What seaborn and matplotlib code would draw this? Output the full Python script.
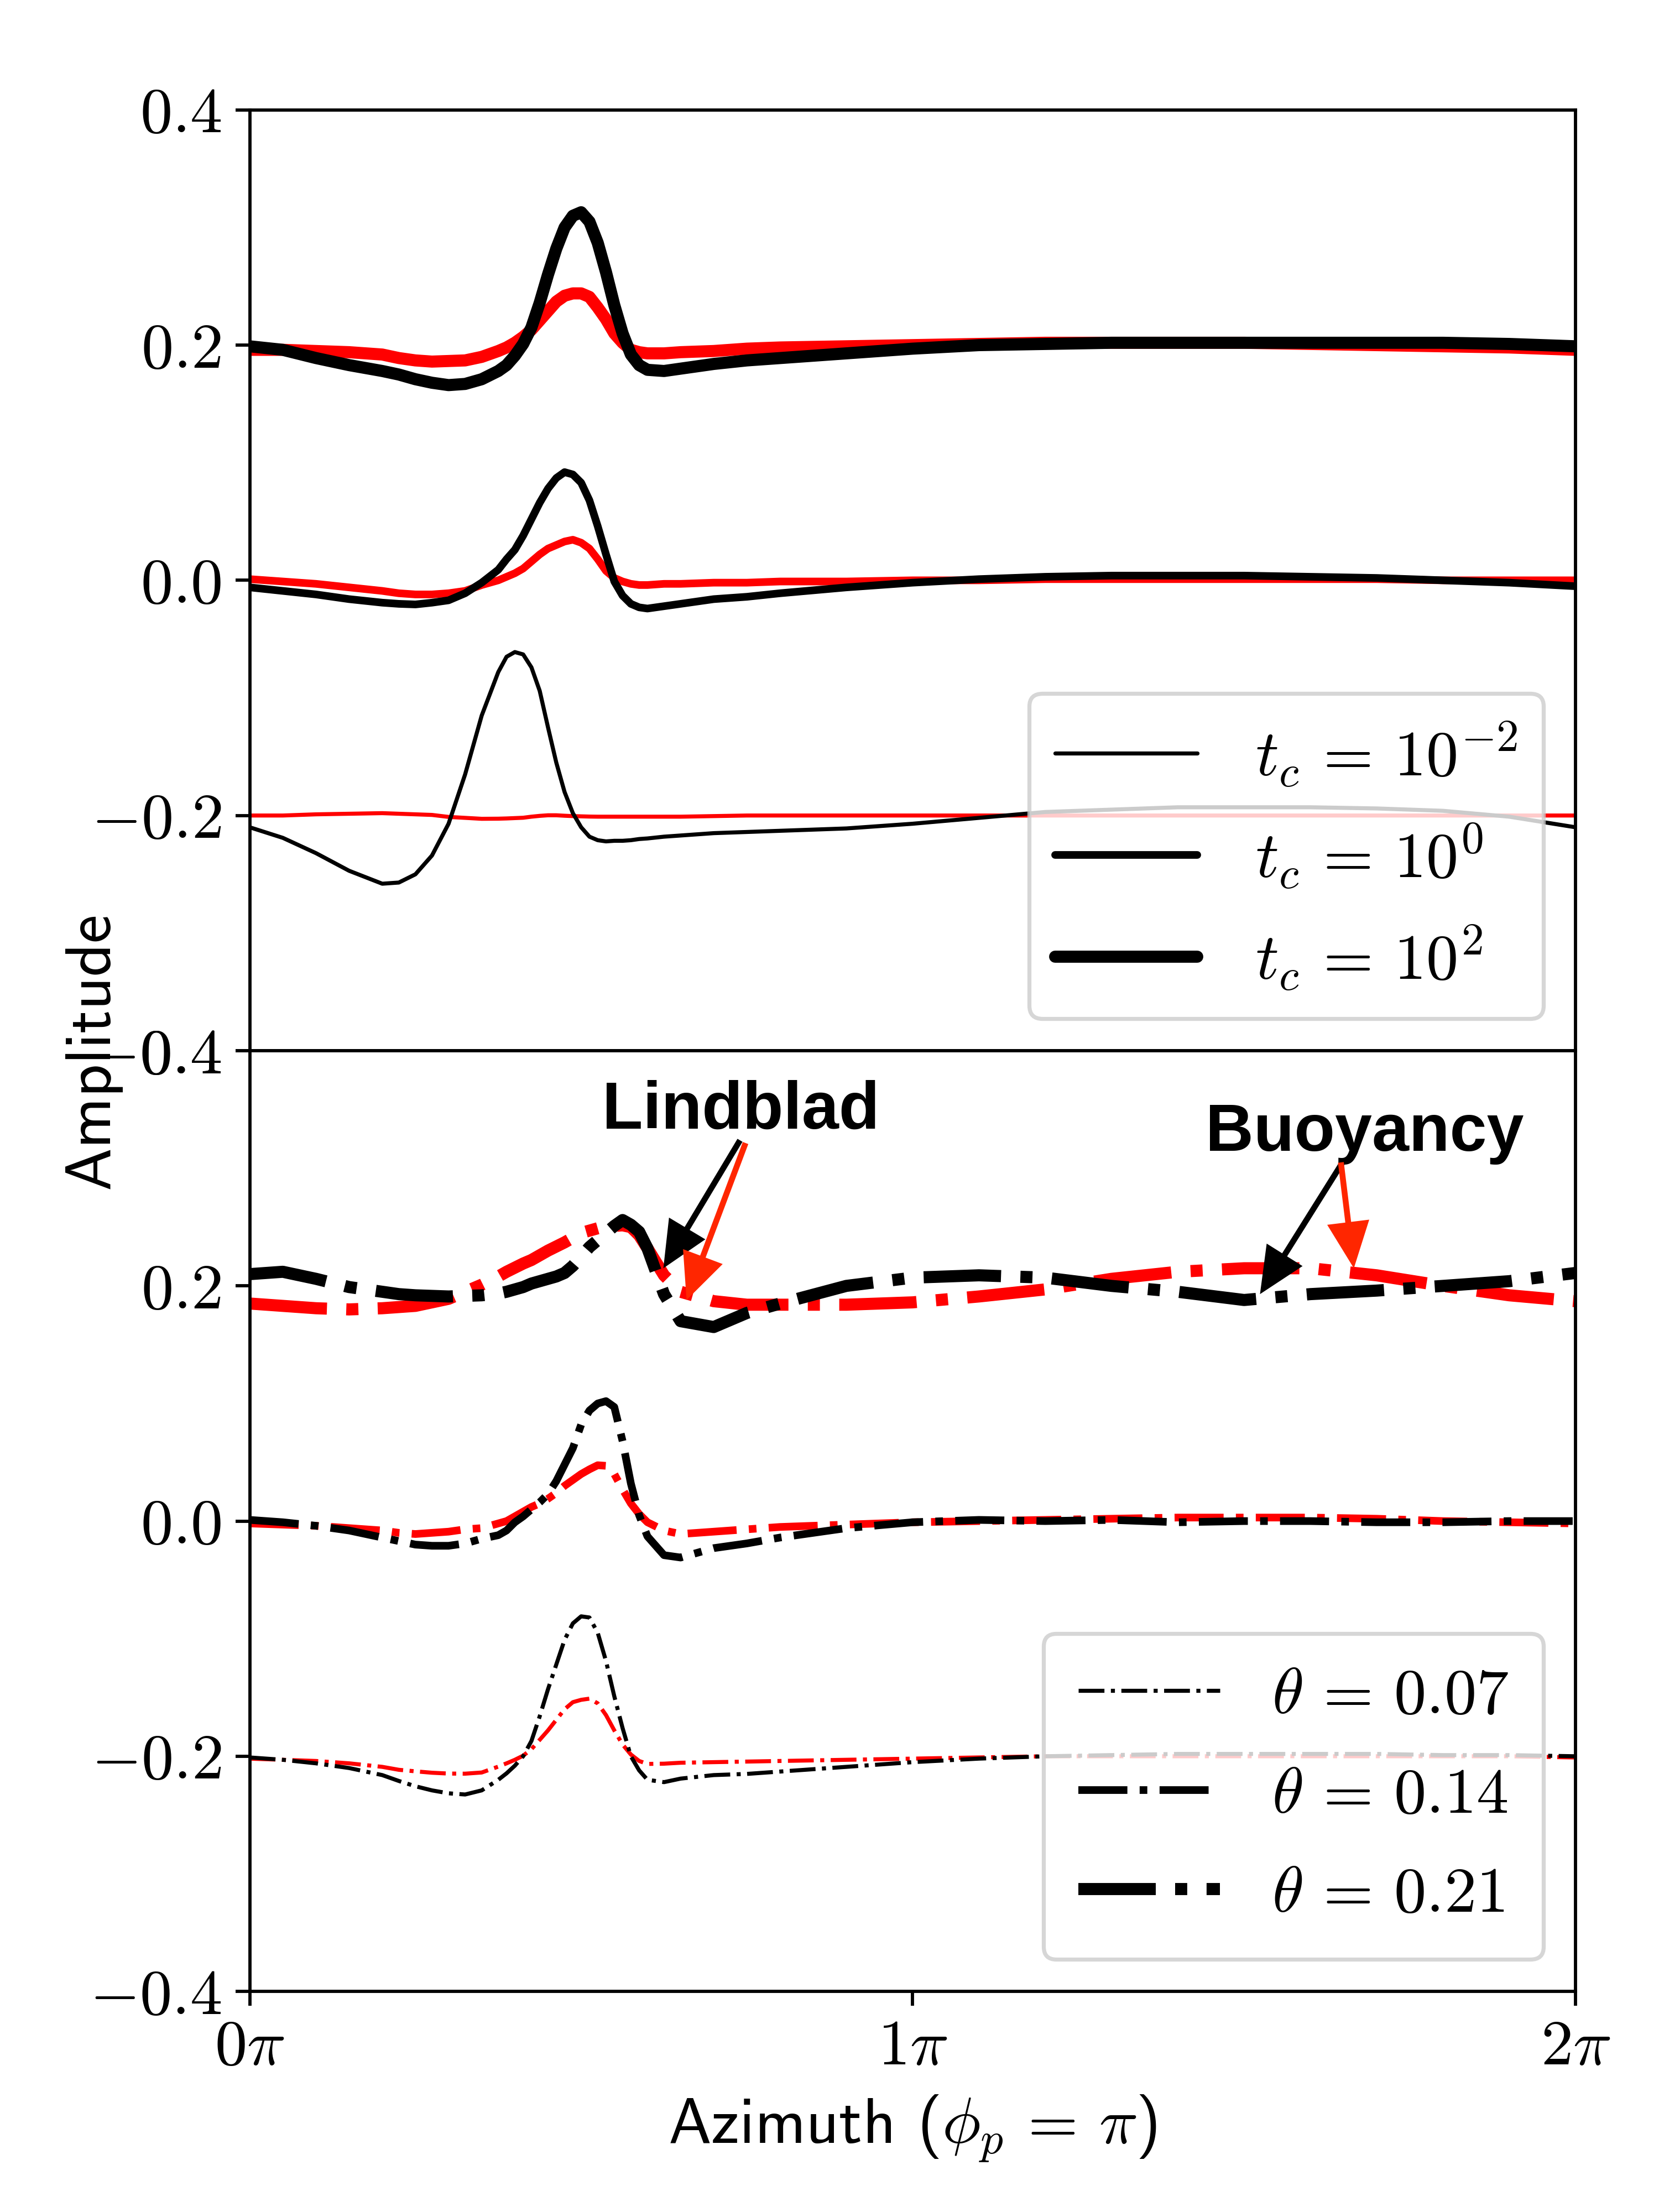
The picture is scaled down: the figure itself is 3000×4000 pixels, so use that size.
import numpy as np
import matplotlib
matplotlib.use("Agg")
import matplotlib.pyplot as plt
from matplotlib.lines import Line2D
import seaborn as sns

# ---------------- data (azimuth in units of pi) ----------------
phi = [0, 0.05, 0.1, 0.15, 0.2, 0.225, 0.25, 0.275, 0.3, 0.325, 0.35,
       0.375, 0.3875, 0.4, 0.4125, 0.425, 0.4375, 0.45, 0.4625, 0.475, 0.4875,
       0.5, 0.5125, 0.525, 0.5375, 0.55, 0.5625, 0.575, 0.5875, 0.6,
       0.625, 0.65, 0.7, 0.75, 0.8, 0.9,
       1.0, 1.1, 1.2, 1.3, 1.4, 1.5, 1.6, 1.7, 1.8, 1.9, 2.0]

# top panel: cooling time t_c (vertical offsets already included)
tc1e2_black = [0.199, 0.196, 0.189, 0.183, 0.178, 0.175, 0.171, 0.168, 0.166, 0.167, 0.171,
               0.178, 0.183, 0.191, 0.201, 0.215, 0.236, 0.260, 0.282, 0.300, 0.310,
               0.313, 0.305, 0.287, 0.262, 0.234, 0.210, 0.192, 0.183, 0.179,
               0.178, 0.180, 0.184, 0.187, 0.189, 0.193,
               0.197, 0.200, 0.201, 0.202, 0.202, 0.202, 0.202, 0.202, 0.202, 0.201, 0.199]
tc1e2_red = [0.196, 0.196, 0.195, 0.194, 0.192, 0.189, 0.187, 0.186, 0.1865, 0.187, 0.190,
             0.195, 0.198, 0.202, 0.207, 0.213, 0.221, 0.229, 0.237, 0.242, 0.244,
             0.244, 0.241, 0.232, 0.222, 0.210, 0.202, 0.196, 0.194, 0.193,
             0.193, 0.194, 0.195, 0.197, 0.198, 0.199,
             0.200, 0.201, 0.202, 0.202, 0.202, 0.202, 0.201, 0.200, 0.199, 0.198, 0.196]
tc1e0_black = [-0.006, -0.009, -0.012, -0.016, -0.019, -0.020, -0.0205, -0.019, -0.017, -0.011, -0.002,
               0.009, 0.018, 0.026, 0.038, 0.052, 0.066, 0.078, 0.087, 0.092, 0.090,
               0.083, 0.068, 0.046, 0.022, -0.001, -0.013, -0.020, -0.023, -0.024,
               -0.022, -0.020, -0.016, -0.014, -0.011, -0.006,
               -0.002, 0.001, 0.003, 0.004, 0.004, 0.004, 0.003, 0.002, 0.000, -0.002, -0.005]
tc1e0_red = [0.001, -0.001, -0.003, -0.006, -0.009, -0.011, -0.012, -0.012, -0.011, -0.009, -0.004,
             0.000, 0.003, 0.006, 0.010, 0.016, 0.022, 0.027, 0.030, 0.033, 0.0345,
             0.032, 0.027, 0.018, 0.008, 0.002, -0.001, -0.003, -0.004, -0.004,
             -0.003, -0.003, -0.002, -0.002, -0.001, -0.001,
             0.000, 0.000, 0.001, 0.001, 0.001, 0.001, 0.001, 0.001, 0.000, 0.000, 0.000]
tc1em2_black = [-0.210, -0.219, -0.232, -0.247, -0.258, -0.257, -0.250, -0.234, -0.207, -0.165, -0.115,
                -0.078, -0.065, -0.061, -0.063, -0.074, -0.094, -0.125, -0.155, -0.180, -0.198,
                -0.210, -0.218, -0.221, -0.222, -0.2215, -0.2215, -0.221, -0.220, -0.2195,
                -0.218, -0.217, -0.215, -0.214, -0.213, -0.211,
                -0.207, -0.202, -0.197, -0.195, -0.193, -0.193, -0.193, -0.194, -0.196, -0.201, -0.210]
tc1em2_red = [-0.200, -0.200, -0.199, -0.1985, -0.198, -0.1985, -0.199, -0.1995, -0.2012, -0.202, -0.2028,
              -0.2027, -0.2025, -0.2022, -0.2019, -0.201, -0.2003, -0.1998, -0.1998, -0.2002, -0.2005,
              -0.2007, -0.2009, -0.201, -0.201, -0.201, -0.201, -0.201, -0.201, -0.201,
              -0.201, -0.201, -0.2005, -0.200, -0.200, -0.200,
              -0.200, -0.200, -0.200, -0.200, -0.200, -0.200, -0.200, -0.200, -0.200, -0.200, -0.200]

# bottom panel: aspect ratio theta (vertical offsets already included)
th021_black = [0.210, 0.212, 0.206, 0.199, 0.195, 0.193, 0.192, 0.1915, 0.191, 0.1915, 0.192,
               0.1935, 0.195, 0.197, 0.199, 0.202, 0.204, 0.206, 0.208, 0.211, 0.217,
               0.225, 0.233, 0.239, 0.245, 0.251, 0.256, 0.252, 0.246, 0.232,
               0.193, 0.170, 0.165, 0.177, 0.185, 0.200,
               0.207, 0.209, 0.207, 0.200, 0.195, 0.188, 0.193, 0.196, 0.200, 0.204, 0.211]
th021_red = [0.185, 0.183, 0.181, 0.180, 0.181, 0.182, 0.183, 0.186, 0.189, 0.195, 0.201,
             0.208, 0.212, 0.2155, 0.219, 0.222, 0.226, 0.230, 0.2335, 0.237, 0.241,
             0.245, 0.247, 0.249, 0.250, 0.251, 0.2515, 0.250, 0.243, 0.232,
             0.209, 0.195, 0.187, 0.184, 0.184, 0.184,
             0.186, 0.191, 0.197, 0.206, 0.212, 0.215, 0.215, 0.209, 0.200, 0.192, 0.187]
th014_black = [0.001, -0.001, -0.004, -0.008, -0.014, -0.017, -0.020, -0.021, -0.021, -0.019, -0.015,
               -0.012, -0.008, -0.001, 0.004, 0.010, 0.016, 0.023, 0.034, 0.048, 0.062,
               0.082, 0.094, 0.100, 0.102, 0.097, 0.068, 0.032, 0.005, -0.013,
               -0.029, -0.031, -0.023, -0.019, -0.014, -0.006,
               -0.001, 0.001, 0.000, 0.001, -0.001, 0.000, 0.000, -0.001, -0.001, 0.000, 0.000]
th014_red = [-0.002, -0.003, -0.004, -0.006, -0.008, -0.010, -0.011, -0.010, -0.009, -0.007, -0.006,
             -0.002, 0.000, 0.004, 0.008, 0.012, 0.015, 0.019, 0.024, 0.030, 0.035,
             0.040, 0.044, 0.0475, 0.047, 0.040, 0.027, 0.015, 0.006, -0.001,
             -0.008, -0.011, -0.009, -0.007, -0.005, -0.003,
             -0.001, 0.000, 0.001, 0.002, 0.003, 0.003, 0.003, 0.002, 0.000, -0.001, -0.002]
th007_black = [-0.201, -0.203, -0.206, -0.210, -0.216, -0.221, -0.2255, -0.229, -0.2315, -0.2325, -0.229,
               -0.220, -0.2145, -0.208, -0.200, -0.187, -0.166, -0.143, -0.122, -0.101, -0.087,
               -0.081, -0.082, -0.095, -0.119, -0.149, -0.176, -0.200, -0.212, -0.220,
               -0.222, -0.219, -0.216, -0.215, -0.213, -0.209,
               -0.205, -0.202, -0.200, -0.199, -0.198, -0.198, -0.198, -0.198, -0.199, -0.199, -0.200]
th007_red = [-0.202, -0.203, -0.204, -0.206, -0.209, -0.2115, -0.2128, -0.214, -0.2147, -0.2148, -0.2138,
             -0.2088, -0.206, -0.203, -0.1995, -0.194, -0.186, -0.178, -0.169, -0.160, -0.154,
             -0.152, -0.151, -0.155, -0.165, -0.178, -0.190, -0.1985, -0.204, -0.2065,
             -0.2063, -0.2055, -0.205, -0.2045, -0.204, -0.203,
             -0.202, -0.201, -0.200, -0.200, -0.200, -0.200, -0.200, -0.200, -0.200, -0.200, -0.201]

yticks = [-0.4, -0.2, 0.0, 0.2, 0.4]
ytick_labels = [r"$-0.4$", r"$-0.2$", r"$0.0$", r"$0.2$", r"$0.4$"]
xticks_pi = [0, 1, 2]
xtick_labels = [r"$0\pi$", r"$1\pi$", r"$2\pi$"]
tc_labels = [r"$t_c \,=\, 10^{-2}$", r"$t_c \,=\, 10^{0}$", r"$t_c \,=\, 10^{2}$"]
theta_labels = [r"$\theta \,=\, 0.07$", r"$\theta \,=\, 0.14$", r"$\theta \,=\, 0.21$"]

# ---------------- style ----------------
sns.set_style("ticks")
plt.rcParams.update({
    "axes.linewidth": 0.8,
    "xtick.major.size": 3.5, "ytick.major.size": 3.5,
    "xtick.major.width": 0.8, "ytick.major.width": 0.8,
    "xtick.direction": "out", "ytick.direction": "out",
    "axes.edgecolor": "black",
    "xtick.color": "black", "ytick.color": "black",
    "text.color": "black", "axes.labelcolor": "black",
    "mathtext.fontset": "cm",
    "font.size": 16,
    "axes.unicode_minus": False,
})
plt.rcParams["font.family"] = ["cmss10", "DejaVu Sans"]

DPI = 525
fig = plt.figure(figsize=(3000 / DPI, 4000 / DPI), dpi=DPI)
ax1 = fig.add_axes([0.1505, 0.525, 0.7992, 0.4253])
ax2 = fig.add_axes([0.1505, 0.0997, 0.7992, 0.4253])

x = np.array(phi) * np.pi
widths = [1.0, 1.9, 3.0]

top_sets = [(tc1em2_red, tc1em2_black), (tc1e0_red, tc1e0_black), (tc1e2_red, tc1e2_black)]
bot_sets = [(th007_red, th007_black), (th014_red, th014_black), (th021_red, th021_black)]

for (red, blk), lw in zip(top_sets, widths):
    sns.lineplot(x=x, y=red, ax=ax1, color="red", lw=lw, estimator=None, sort=False)
    sns.lineplot(x=x, y=blk, ax=ax1, color="black", lw=lw, estimator=None, sort=False)
for (red, blk), lw in zip(bot_sets, widths):
    sns.lineplot(x=x, y=red, ax=ax2, color="red", lw=lw, linestyle="-.", estimator=None, sort=False)
    sns.lineplot(x=x, y=blk, ax=ax2, color="black", lw=lw, linestyle="-.", estimator=None, sort=False)

for ax in (ax1, ax2):
    ax.set_xlim(0, 2 * np.pi)
    ax.set_ylim(-0.4, 0.4)
    ax.set_yticks(yticks)
    ax.set_yticklabels(ytick_labels, fontsize=16)
    for s in ax.spines.values():
        s.set_visible(True)
        s.set_linewidth(0.8)
        s.set_color("black")

ax1.set_xticks([])
ax2.set_xticks(np.array(xticks_pi) * np.pi)
ax2.set_xticklabels(xtick_labels, fontsize=16)
ax2.set_xlabel(r"Azimuth ($\phi_p \,=\, \pi$)", fontsize=16)
fig.text(0.056, 0.525, "Amplitude", rotation=90, ha="center", va="center", fontsize=16)

h1 = [Line2D([], [], color="black", lw=lw) for lw in widths]
h2 = [Line2D([], [], color="black", lw=lw, linestyle="-.") for lw in widths]
ax1.legend(h1, tc_labels, loc="lower right", fontsize=16, handlelength=2.2, handletextpad=0.9)
ax2.legend(h2, theta_labels, loc="lower right", fontsize=16, handlelength=2.2,
           labelspacing=0.64, borderpad=0.54)

# annotations
bold = dict(family=["Liberation Sans", "DejaVu Sans"], fontweight="bold", fontsize=16.5, color="black")
ax2.text(0.7405 * np.pi, 0.3337, "Lindblad", ha="center", va="baseline", **bold)
ax2.text(1.682 * np.pi, 0.315, "Buoyancy", ha="center", va="baseline", **bold)

astyle = "simple,head_length=1.15,head_width=1.05,tail_width=0.145"
arrows = [
    ((0.624, 0.215), (0.7396, 0.3238), "black"),
    ((0.659, 0.188), (0.748, 0.3215), "#ff2600"),
    ((1.524, 0.193), (1.648, 0.3045), "black"),
    ((1.6656, 0.215), (1.646, 0.305), "#ff2600"),
]
for (tx, ty), (sx, sy), c in arrows:
    ax2.annotate("", xy=(tx * np.pi, ty), xytext=(sx * np.pi, sy),
                 arrowprops=dict(arrowstyle=astyle, mutation_scale=10, color=c,
                                 shrinkA=0, shrinkB=0, lw=0))

fig.savefig("out.png", dpi=DPI)
